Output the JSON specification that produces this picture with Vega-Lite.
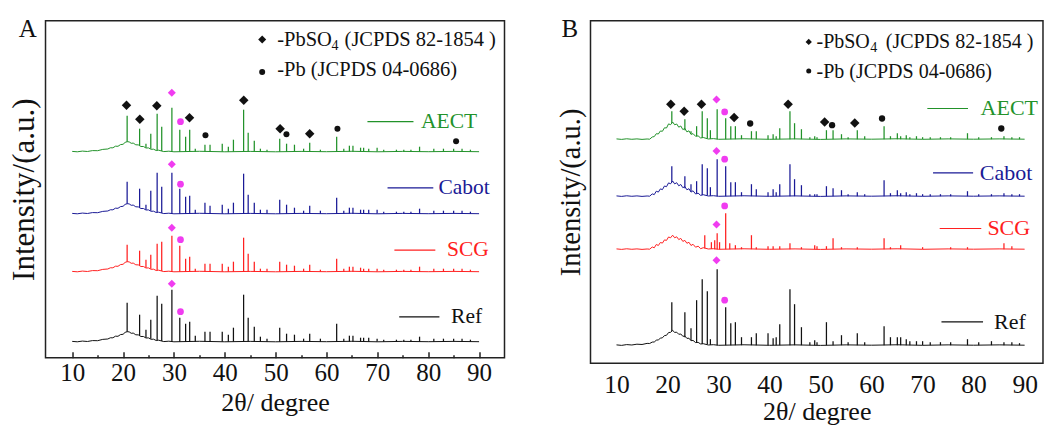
{
"$schema": "https://vega.github.io/schema/vega-lite/v6.json",
"background": "white",
"padding": {"left": 7.5, "top": 15.7, "right": 0, "bottom": 0},
"spacing": 50,
"config": {"font": "Liberation Serif", "view": {"stroke": "#222", "strokeWidth": 1.5}, "axis": {"grid": false}},
"datasets": {
"bg": [
{"p":"A","s":"AECT","x":10,"y":206.3},{"p":"A","s":"AECT","x":11,"y":205.9},{"p":"A","s":"AECT","x":12,"y":206.6},{"p":"A","s":"AECT","x":13,"y":206.2},{"p":"A","s":"AECT","x":14,"y":207.1},{"p":"A","s":"AECT","x":15,"y":207},{"p":"A","s":"AECT","x":16,"y":208.3},{"p":"A","s":"AECT","x":17,"y":208.7},{"p":"A","s":"AECT","x":17.5,"y":209.9},{"p":"A","s":"AECT","x":18,"y":209.9},{"p":"A","s":"AECT","x":18.5,"y":211.5},{"p":"A","s":"AECT","x":19,"y":211.4},{"p":"A","s":"AECT","x":19.5,"y":213.1},{"p":"A","s":"AECT","x":20,"y":213.4},{"p":"A","s":"AECT","x":20.4,"y":215.3},{"p":"A","s":"AECT","x":20.8,"y":216},{"p":"A","s":"AECT","x":21.2,"y":215.8},{"p":"A","s":"AECT","x":21.6,"y":214.4},{"p":"A","s":"AECT","x":22,"y":214.6},{"p":"A","s":"AECT","x":22.5,"y":212.9},{"p":"A","s":"AECT","x":23,"y":212.8},{"p":"A","s":"AECT","x":23.5,"y":211.2},{"p":"A","s":"AECT","x":24,"y":211.2},{"p":"A","s":"AECT","x":24.5,"y":209.7},{"p":"A","s":"AECT","x":25,"y":209.8},{"p":"A","s":"AECT","x":25.5,"y":208.4},{"p":"A","s":"AECT","x":26,"y":208.5},{"p":"A","s":"AECT","x":26.5,"y":207.2},{"p":"A","s":"AECT","x":27,"y":207.5},{"p":"A","s":"AECT","x":28,"y":206.1},{"p":"A","s":"AECT","x":29,"y":206.5},{"p":"A","s":"AECT","x":30,"y":205.9},{"p":"A","s":"AECT","x":35,"y":206.4},{"p":"A","s":"AECT","x":40,"y":205.9},{"p":"A","s":"AECT","x":45,"y":206.3},{"p":"A","s":"AECT","x":50,"y":205.9},{"p":"A","s":"AECT","x":55,"y":206.3},{"p":"A","s":"AECT","x":60,"y":206},{"p":"A","s":"AECT","x":65,"y":206.4},{"p":"A","s":"AECT","x":70,"y":205.9},{"p":"A","s":"AECT","x":75,"y":206.3},{"p":"A","s":"AECT","x":80,"y":206},{"p":"A","s":"AECT","x":85,"y":206.3},{"p":"A","s":"AECT","x":90,"y":206},
{"p":"A","s":"Cabot","x":10,"y":144.3},{"p":"A","s":"Cabot","x":11,"y":143.9},{"p":"A","s":"Cabot","x":12,"y":144.6},{"p":"A","s":"Cabot","x":13,"y":144.2},{"p":"A","s":"Cabot","x":14,"y":145.1},{"p":"A","s":"Cabot","x":15,"y":145},{"p":"A","s":"Cabot","x":16,"y":146.3},{"p":"A","s":"Cabot","x":17,"y":146.7},{"p":"A","s":"Cabot","x":17.5,"y":147.9},{"p":"A","s":"Cabot","x":18,"y":147.9},{"p":"A","s":"Cabot","x":18.5,"y":149.5},{"p":"A","s":"Cabot","x":19,"y":149.4},{"p":"A","s":"Cabot","x":19.5,"y":151.1},{"p":"A","s":"Cabot","x":20,"y":151.4},{"p":"A","s":"Cabot","x":20.4,"y":153.3},{"p":"A","s":"Cabot","x":20.8,"y":154},{"p":"A","s":"Cabot","x":21.2,"y":153.8},{"p":"A","s":"Cabot","x":21.6,"y":152.4},{"p":"A","s":"Cabot","x":22,"y":152.6},{"p":"A","s":"Cabot","x":22.5,"y":150.9},{"p":"A","s":"Cabot","x":23,"y":150.8},{"p":"A","s":"Cabot","x":23.5,"y":149.2},{"p":"A","s":"Cabot","x":24,"y":149.2},{"p":"A","s":"Cabot","x":24.5,"y":147.7},{"p":"A","s":"Cabot","x":25,"y":147.8},{"p":"A","s":"Cabot","x":25.5,"y":146.4},{"p":"A","s":"Cabot","x":26,"y":146.5},{"p":"A","s":"Cabot","x":26.5,"y":145.2},{"p":"A","s":"Cabot","x":27,"y":145.5},{"p":"A","s":"Cabot","x":28,"y":144.1},{"p":"A","s":"Cabot","x":29,"y":144.5},{"p":"A","s":"Cabot","x":30,"y":143.9},{"p":"A","s":"Cabot","x":35,"y":144.4},{"p":"A","s":"Cabot","x":40,"y":143.9},{"p":"A","s":"Cabot","x":45,"y":144.3},{"p":"A","s":"Cabot","x":50,"y":143.9},{"p":"A","s":"Cabot","x":55,"y":144.3},{"p":"A","s":"Cabot","x":60,"y":144},{"p":"A","s":"Cabot","x":65,"y":144.4},{"p":"A","s":"Cabot","x":70,"y":143.9},{"p":"A","s":"Cabot","x":75,"y":144.3},{"p":"A","s":"Cabot","x":80,"y":144},{"p":"A","s":"Cabot","x":85,"y":144.3},{"p":"A","s":"Cabot","x":90,"y":144},
{"p":"A","s":"SCG","x":10,"y":86.3},{"p":"A","s":"SCG","x":11,"y":85.9},{"p":"A","s":"SCG","x":12,"y":86.6},{"p":"A","s":"SCG","x":13,"y":86.2},{"p":"A","s":"SCG","x":14,"y":87.1},{"p":"A","s":"SCG","x":15,"y":87},{"p":"A","s":"SCG","x":16,"y":88.3},{"p":"A","s":"SCG","x":17,"y":88.7},{"p":"A","s":"SCG","x":17.5,"y":89.9},{"p":"A","s":"SCG","x":18,"y":89.9},{"p":"A","s":"SCG","x":18.5,"y":91.5},{"p":"A","s":"SCG","x":19,"y":91.4},{"p":"A","s":"SCG","x":19.5,"y":93.1},{"p":"A","s":"SCG","x":20,"y":93.4},{"p":"A","s":"SCG","x":20.4,"y":95.3},{"p":"A","s":"SCG","x":20.8,"y":96},{"p":"A","s":"SCG","x":21.2,"y":95.8},{"p":"A","s":"SCG","x":21.6,"y":94.4},{"p":"A","s":"SCG","x":22,"y":94.6},{"p":"A","s":"SCG","x":22.5,"y":92.9},{"p":"A","s":"SCG","x":23,"y":92.8},{"p":"A","s":"SCG","x":23.5,"y":91.2},{"p":"A","s":"SCG","x":24,"y":91.2},{"p":"A","s":"SCG","x":24.5,"y":89.7},{"p":"A","s":"SCG","x":25,"y":89.8},{"p":"A","s":"SCG","x":25.5,"y":88.4},{"p":"A","s":"SCG","x":26,"y":88.5},{"p":"A","s":"SCG","x":26.5,"y":87.2},{"p":"A","s":"SCG","x":27,"y":87.5},{"p":"A","s":"SCG","x":28,"y":86.1},{"p":"A","s":"SCG","x":29,"y":86.5},{"p":"A","s":"SCG","x":30,"y":85.9},{"p":"A","s":"SCG","x":35,"y":86.4},{"p":"A","s":"SCG","x":40,"y":85.9},{"p":"A","s":"SCG","x":45,"y":86.3},{"p":"A","s":"SCG","x":50,"y":85.9},{"p":"A","s":"SCG","x":55,"y":86.3},{"p":"A","s":"SCG","x":60,"y":86},{"p":"A","s":"SCG","x":65,"y":86.4},{"p":"A","s":"SCG","x":70,"y":85.9},{"p":"A","s":"SCG","x":75,"y":86.3},{"p":"A","s":"SCG","x":80,"y":86},{"p":"A","s":"SCG","x":85,"y":86.3},{"p":"A","s":"SCG","x":90,"y":86},
{"p":"A","s":"Ref","x":10,"y":16.3},{"p":"A","s":"Ref","x":11,"y":15.9},{"p":"A","s":"Ref","x":12,"y":16.6},{"p":"A","s":"Ref","x":13,"y":16.2},{"p":"A","s":"Ref","x":14,"y":17.1},{"p":"A","s":"Ref","x":15,"y":17},{"p":"A","s":"Ref","x":16,"y":18.3},{"p":"A","s":"Ref","x":17,"y":18.7},{"p":"A","s":"Ref","x":17.5,"y":19.9},{"p":"A","s":"Ref","x":18,"y":19.9},{"p":"A","s":"Ref","x":18.5,"y":21.5},{"p":"A","s":"Ref","x":19,"y":21.4},{"p":"A","s":"Ref","x":19.5,"y":23.1},{"p":"A","s":"Ref","x":20,"y":23.4},{"p":"A","s":"Ref","x":20.4,"y":25.3},{"p":"A","s":"Ref","x":20.8,"y":26},{"p":"A","s":"Ref","x":21.2,"y":25.8},{"p":"A","s":"Ref","x":21.6,"y":24.4},{"p":"A","s":"Ref","x":22,"y":24.6},{"p":"A","s":"Ref","x":22.5,"y":22.9},{"p":"A","s":"Ref","x":23,"y":22.8},{"p":"A","s":"Ref","x":23.5,"y":21.2},{"p":"A","s":"Ref","x":24,"y":21.2},{"p":"A","s":"Ref","x":24.5,"y":19.7},{"p":"A","s":"Ref","x":25,"y":19.8},{"p":"A","s":"Ref","x":25.5,"y":18.4},{"p":"A","s":"Ref","x":26,"y":18.5},{"p":"A","s":"Ref","x":26.5,"y":17.2},{"p":"A","s":"Ref","x":27,"y":17.5},{"p":"A","s":"Ref","x":28,"y":16.1},{"p":"A","s":"Ref","x":29,"y":16.5},{"p":"A","s":"Ref","x":30,"y":15.9},{"p":"A","s":"Ref","x":35,"y":16.4},{"p":"A","s":"Ref","x":40,"y":15.9},{"p":"A","s":"Ref","x":45,"y":16.3},{"p":"A","s":"Ref","x":50,"y":15.9},{"p":"A","s":"Ref","x":55,"y":16.3},{"p":"A","s":"Ref","x":60,"y":16},{"p":"A","s":"Ref","x":65,"y":16.4},{"p":"A","s":"Ref","x":70,"y":15.9},{"p":"A","s":"Ref","x":75,"y":16.3},{"p":"A","s":"Ref","x":80,"y":16},{"p":"A","s":"Ref","x":85,"y":16.3},{"p":"A","s":"Ref","x":90,"y":16},
{"p":"B","s":"AECT","x":10,"y":224.3},{"p":"B","s":"AECT","x":11,"y":223.8},{"p":"B","s":"AECT","x":12,"y":224.4},{"p":"B","s":"AECT","x":13,"y":223.9},{"p":"B","s":"AECT","x":14,"y":224.3},{"p":"B","s":"AECT","x":15,"y":223.8},{"p":"B","s":"AECT","x":16,"y":224.2},{"p":"B","s":"AECT","x":16.5,"y":224},{"p":"B","s":"AECT","x":17,"y":226.2},{"p":"B","s":"AECT","x":17.4,"y":226.6},{"p":"B","s":"AECT","x":17.8,"y":229.5},{"p":"B","s":"AECT","x":18.2,"y":229.2},{"p":"B","s":"AECT","x":18.6,"y":232.2},{"p":"B","s":"AECT","x":19,"y":231.9},{"p":"B","s":"AECT","x":19.4,"y":235.4},{"p":"B","s":"AECT","x":19.8,"y":235.2},{"p":"B","s":"AECT","x":20.2,"y":239.3},{"p":"B","s":"AECT","x":20.6,"y":238.5},{"p":"B","s":"AECT","x":21,"y":241.2},{"p":"B","s":"AECT","x":21.4,"y":238.4},{"p":"B","s":"AECT","x":21.8,"y":239.2},{"p":"B","s":"AECT","x":22.2,"y":236},{"p":"B","s":"AECT","x":22.6,"y":237.2},{"p":"B","s":"AECT","x":23,"y":233.6},{"p":"B","s":"AECT","x":23.4,"y":234.8},{"p":"B","s":"AECT","x":23.8,"y":231.3},{"p":"B","s":"AECT","x":24.2,"y":232.4},{"p":"B","s":"AECT","x":24.6,"y":228.8},{"p":"B","s":"AECT","x":25,"y":229.6},{"p":"B","s":"AECT","x":25.5,"y":226.9},{"p":"B","s":"AECT","x":26,"y":227.3},{"p":"B","s":"AECT","x":26.5,"y":225.2},{"p":"B","s":"AECT","x":27,"y":225.7},{"p":"B","s":"AECT","x":28,"y":224.2},{"p":"B","s":"AECT","x":29,"y":224.6},{"p":"B","s":"AECT","x":30,"y":223.9},{"p":"B","s":"AECT","x":35,"y":224.4},{"p":"B","s":"AECT","x":40,"y":223.9},{"p":"B","s":"AECT","x":45,"y":224.3},{"p":"B","s":"AECT","x":50,"y":223.8},{"p":"B","s":"AECT","x":55,"y":224.3},{"p":"B","s":"AECT","x":60,"y":224},{"p":"B","s":"AECT","x":65,"y":224.4},{"p":"B","s":"AECT","x":70,"y":223.9},{"p":"B","s":"AECT","x":75,"y":224.3},{"p":"B","s":"AECT","x":80,"y":224},{"p":"B","s":"AECT","x":85,"y":224.3},{"p":"B","s":"AECT","x":90,"y":224},
{"p":"B","s":"Cabot","x":10,"y":167.3},{"p":"B","s":"Cabot","x":11,"y":166.8},{"p":"B","s":"Cabot","x":12,"y":167.4},{"p":"B","s":"Cabot","x":13,"y":166.9},{"p":"B","s":"Cabot","x":14,"y":167.3},{"p":"B","s":"Cabot","x":15,"y":166.8},{"p":"B","s":"Cabot","x":16,"y":167.2},{"p":"B","s":"Cabot","x":16.5,"y":167},{"p":"B","s":"Cabot","x":17,"y":169.3},{"p":"B","s":"Cabot","x":17.4,"y":168.6},{"p":"B","s":"Cabot","x":17.8,"y":172},{"p":"B","s":"Cabot","x":18.2,"y":171.1},{"p":"B","s":"Cabot","x":18.6,"y":174.3},{"p":"B","s":"Cabot","x":19,"y":173.6},{"p":"B","s":"Cabot","x":19.4,"y":177.2},{"p":"B","s":"Cabot","x":19.8,"y":176.5},{"p":"B","s":"Cabot","x":20.2,"y":180.3},{"p":"B","s":"Cabot","x":20.6,"y":179.4},{"p":"B","s":"Cabot","x":21,"y":182.2},{"p":"B","s":"Cabot","x":21.4,"y":179.3},{"p":"B","s":"Cabot","x":21.8,"y":180.5},{"p":"B","s":"Cabot","x":22.2,"y":177.4},{"p":"B","s":"Cabot","x":22.6,"y":178.7},{"p":"B","s":"Cabot","x":23,"y":175.5},{"p":"B","s":"Cabot","x":23.4,"y":176.6},{"p":"B","s":"Cabot","x":23.8,"y":173.4},{"p":"B","s":"Cabot","x":24.2,"y":174.5},{"p":"B","s":"Cabot","x":24.6,"y":171.1},{"p":"B","s":"Cabot","x":25,"y":172.4},{"p":"B","s":"Cabot","x":25.5,"y":169.2},{"p":"B","s":"Cabot","x":26,"y":170},{"p":"B","s":"Cabot","x":26.5,"y":167.8},{"p":"B","s":"Cabot","x":27,"y":168.5},{"p":"B","s":"Cabot","x":28,"y":167.2},{"p":"B","s":"Cabot","x":29,"y":167.5},{"p":"B","s":"Cabot","x":30,"y":166.9},{"p":"B","s":"Cabot","x":35,"y":167.4},{"p":"B","s":"Cabot","x":40,"y":166.9},{"p":"B","s":"Cabot","x":45,"y":167.3},{"p":"B","s":"Cabot","x":50,"y":166.8},{"p":"B","s":"Cabot","x":55,"y":167.3},{"p":"B","s":"Cabot","x":60,"y":167},{"p":"B","s":"Cabot","x":65,"y":167.4},{"p":"B","s":"Cabot","x":70,"y":166.9},{"p":"B","s":"Cabot","x":75,"y":167.3},{"p":"B","s":"Cabot","x":80,"y":167},{"p":"B","s":"Cabot","x":85,"y":167.3},{"p":"B","s":"Cabot","x":90,"y":167},
{"p":"B","s":"SCG","x":10,"y":114.3},{"p":"B","s":"SCG","x":11,"y":113.8},{"p":"B","s":"SCG","x":12,"y":114.4},{"p":"B","s":"SCG","x":13,"y":113.9},{"p":"B","s":"SCG","x":14,"y":114.3},{"p":"B","s":"SCG","x":15,"y":113.8},{"p":"B","s":"SCG","x":16,"y":114.2},{"p":"B","s":"SCG","x":16.5,"y":114},{"p":"B","s":"SCG","x":17,"y":116.2},{"p":"B","s":"SCG","x":17.4,"y":115.4},{"p":"B","s":"SCG","x":17.8,"y":118.7},{"p":"B","s":"SCG","x":18.2,"y":117.7},{"p":"B","s":"SCG","x":18.6,"y":120.7},{"p":"B","s":"SCG","x":19,"y":120.1},{"p":"B","s":"SCG","x":19.4,"y":123.3},{"p":"B","s":"SCG","x":19.8,"y":122.8},{"p":"B","s":"SCG","x":20.2,"y":126.2},{"p":"B","s":"SCG","x":20.6,"y":125.4},{"p":"B","s":"SCG","x":21,"y":128},{"p":"B","s":"SCG","x":21.4,"y":125.4},{"p":"B","s":"SCG","x":21.8,"y":126.4},{"p":"B","s":"SCG","x":22.2,"y":123.6},{"p":"B","s":"SCG","x":22.6,"y":124.8},{"p":"B","s":"SCG","x":23,"y":121.8},{"p":"B","s":"SCG","x":23.4,"y":122.8},{"p":"B","s":"SCG","x":23.8,"y":119.9},{"p":"B","s":"SCG","x":24.2,"y":120.9},{"p":"B","s":"SCG","x":24.6,"y":117.7},{"p":"B","s":"SCG","x":25,"y":118.9},{"p":"B","s":"SCG","x":25.5,"y":116},{"p":"B","s":"SCG","x":26,"y":117},{"p":"B","s":"SCG","x":26.5,"y":114.5},{"p":"B","s":"SCG","x":27,"y":115.5},{"p":"B","s":"SCG","x":28,"y":114.2},{"p":"B","s":"SCG","x":29,"y":114.5},{"p":"B","s":"SCG","x":30,"y":113.9},{"p":"B","s":"SCG","x":35,"y":114.4},{"p":"B","s":"SCG","x":40,"y":113.9},{"p":"B","s":"SCG","x":45,"y":114.3},{"p":"B","s":"SCG","x":50,"y":113.8},{"p":"B","s":"SCG","x":55,"y":114.3},{"p":"B","s":"SCG","x":60,"y":114},{"p":"B","s":"SCG","x":65,"y":114.4},{"p":"B","s":"SCG","x":70,"y":113.9},{"p":"B","s":"SCG","x":75,"y":114.3},{"p":"B","s":"SCG","x":80,"y":114},{"p":"B","s":"SCG","x":85,"y":114.3},{"p":"B","s":"SCG","x":90,"y":114},
{"p":"B","s":"Ref","x":10,"y":18.3},{"p":"B","s":"Ref","x":11,"y":17.8},{"p":"B","s":"Ref","x":12,"y":18.6},{"p":"B","s":"Ref","x":13,"y":18.2},{"p":"B","s":"Ref","x":14,"y":19},{"p":"B","s":"Ref","x":15,"y":18.7},{"p":"B","s":"Ref","x":16,"y":19.8},{"p":"B","s":"Ref","x":16.5,"y":19.7},{"p":"B","s":"Ref","x":17,"y":21.1},{"p":"B","s":"Ref","x":17.4,"y":21.2},{"p":"B","s":"Ref","x":17.8,"y":23},{"p":"B","s":"Ref","x":18.2,"y":23.3},{"p":"B","s":"Ref","x":18.6,"y":25},{"p":"B","s":"Ref","x":19,"y":25.4},{"p":"B","s":"Ref","x":19.4,"y":27.6},{"p":"B","s":"Ref","x":19.8,"y":27.9},{"p":"B","s":"Ref","x":20.2,"y":30.6},{"p":"B","s":"Ref","x":20.6,"y":30.9},{"p":"B","s":"Ref","x":21,"y":32.8},{"p":"B","s":"Ref","x":21.4,"y":30.8},{"p":"B","s":"Ref","x":21.8,"y":31},{"p":"B","s":"Ref","x":22.2,"y":28.9},{"p":"B","s":"Ref","x":22.6,"y":29.2},{"p":"B","s":"Ref","x":23,"y":26.9},{"p":"B","s":"Ref","x":23.4,"y":27.1},{"p":"B","s":"Ref","x":23.8,"y":24.8},{"p":"B","s":"Ref","x":24.2,"y":25},{"p":"B","s":"Ref","x":24.6,"y":22.5},{"p":"B","s":"Ref","x":25,"y":22.8},{"p":"B","s":"Ref","x":25.5,"y":20.6},{"p":"B","s":"Ref","x":26,"y":20.8},{"p":"B","s":"Ref","x":26.5,"y":19.2},{"p":"B","s":"Ref","x":27,"y":19.5},{"p":"B","s":"Ref","x":28,"y":18.2},{"p":"B","s":"Ref","x":29,"y":18.5},{"p":"B","s":"Ref","x":30,"y":17.9},{"p":"B","s":"Ref","x":35,"y":18.4},{"p":"B","s":"Ref","x":40,"y":17.9},{"p":"B","s":"Ref","x":45,"y":18.3},{"p":"B","s":"Ref","x":50,"y":17.8},{"p":"B","s":"Ref","x":55,"y":18.3},{"p":"B","s":"Ref","x":60,"y":18},{"p":"B","s":"Ref","x":65,"y":18.4},{"p":"B","s":"Ref","x":70,"y":17.9},{"p":"B","s":"Ref","x":75,"y":18.3},{"p":"B","s":"Ref","x":80,"y":18},{"p":"B","s":"Ref","x":85,"y":18.3},{"p":"B","s":"Ref","x":90,"y":18}
],
"pk": [
{"p":"A","s":"AECT","x":20.8,"y":216,"t":242},{"p":"A","s":"AECT","x":23.25,"y":212,"t":229},{"p":"A","s":"AECT","x":24.5,"y":210,"t":214},{"p":"A","s":"AECT","x":25.45,"y":209,"t":224},{"p":"A","s":"AECT","x":26.7,"y":207.5,"t":244},{"p":"A","s":"AECT","x":27.6,"y":206.6,"t":231},{"p":"A","s":"AECT","x":29.6,"y":206,"t":250},{"p":"A","s":"AECT","x":31.15,"y":206,"t":228},{"p":"A","s":"AECT","x":32.3,"y":206,"t":221},{"p":"A","s":"AECT","x":33.1,"y":206,"t":228},{"p":"A","s":"AECT","x":34.2,"y":206,"t":209},{"p":"A","s":"AECT","x":36.1,"y":206,"t":213},{"p":"A","s":"AECT","x":37.1,"y":206,"t":213},{"p":"A","s":"AECT","x":39.5,"y":206,"t":214},{"p":"A","s":"AECT","x":40.7,"y":206,"t":211},{"p":"A","s":"AECT","x":41.7,"y":206,"t":218},{"p":"A","s":"AECT","x":43.7,"y":206,"t":248},{"p":"A","s":"AECT","x":44.6,"y":206,"t":225},{"p":"A","s":"AECT","x":45.8,"y":206,"t":217},{"p":"A","s":"AECT","x":47,"y":206,"t":209},{"p":"A","s":"AECT","x":48.3,"y":206,"t":208},{"p":"A","s":"AECT","x":50.8,"y":206,"t":219},{"p":"A","s":"AECT","x":52.15,"y":206,"t":214},{"p":"A","s":"AECT","x":53.7,"y":206,"t":213},{"p":"A","s":"AECT","x":55.5,"y":206,"t":209},{"p":"A","s":"AECT","x":56.7,"y":206,"t":215},{"p":"A","s":"AECT","x":58.8,"y":206,"t":208},{"p":"A","s":"AECT","x":62,"y":206,"t":221},{"p":"A","s":"AECT","x":63.4,"y":206,"t":209},{"p":"A","s":"AECT","x":64.5,"y":206,"t":212},{"p":"A","s":"AECT","x":65.2,"y":206,"t":212},{"p":"A","s":"AECT","x":66.7,"y":206,"t":210},{"p":"A","s":"AECT","x":67.3,"y":206,"t":210},{"p":"A","s":"AECT","x":68.3,"y":206,"t":209},{"p":"A","s":"AECT","x":69.95,"y":206,"t":210},{"p":"A","s":"AECT","x":71.25,"y":206,"t":208},{"p":"A","s":"AECT","x":73.75,"y":206,"t":208},{"p":"A","s":"AECT","x":75.2,"y":206,"t":208},{"p":"A","s":"AECT","x":76.6,"y":206,"t":208},{"p":"A","s":"AECT","x":78.3,"y":206,"t":211},{"p":"A","s":"AECT","x":81.1,"y":206,"t":209},{"p":"A","s":"AECT","x":83,"y":206,"t":209},{"p":"A","s":"AECT","x":85,"y":206,"t":209},{"p":"A","s":"AECT","x":86.65,"y":206,"t":209},{"p":"A","s":"AECT","x":88.3,"y":206,"t":208},
{"p":"A","s":"Cabot","x":20.8,"y":154,"t":176},{"p":"A","s":"Cabot","x":23.25,"y":150,"t":169},{"p":"A","s":"Cabot","x":24.5,"y":148,"t":153},{"p":"A","s":"Cabot","x":25.45,"y":147,"t":167},{"p":"A","s":"Cabot","x":26.7,"y":145.5,"t":185},{"p":"A","s":"Cabot","x":27.6,"y":144.6,"t":171},{"p":"A","s":"Cabot","x":29.6,"y":144,"t":185},{"p":"A","s":"Cabot","x":31.15,"y":144,"t":169},{"p":"A","s":"Cabot","x":32.3,"y":144,"t":161},{"p":"A","s":"Cabot","x":33.1,"y":144,"t":162},{"p":"A","s":"Cabot","x":34.2,"y":144,"t":148},{"p":"A","s":"Cabot","x":36.1,"y":144,"t":155},{"p":"A","s":"Cabot","x":37.1,"y":144,"t":152},{"p":"A","s":"Cabot","x":39.5,"y":144,"t":153},{"p":"A","s":"Cabot","x":40.7,"y":144,"t":149},{"p":"A","s":"Cabot","x":41.7,"y":144,"t":155},{"p":"A","s":"Cabot","x":43.7,"y":144,"t":184},{"p":"A","s":"Cabot","x":44.6,"y":144,"t":163},{"p":"A","s":"Cabot","x":45.8,"y":144,"t":155},{"p":"A","s":"Cabot","x":47,"y":144,"t":148},{"p":"A","s":"Cabot","x":48.3,"y":144,"t":148},{"p":"A","s":"Cabot","x":50.8,"y":144,"t":158},{"p":"A","s":"Cabot","x":52.15,"y":144,"t":153},{"p":"A","s":"Cabot","x":53.7,"y":144,"t":150},{"p":"A","s":"Cabot","x":55.5,"y":144,"t":147},{"p":"A","s":"Cabot","x":56.7,"y":144,"t":152},{"p":"A","s":"Cabot","x":58.8,"y":144,"t":147},{"p":"A","s":"Cabot","x":62,"y":144,"t":160},{"p":"A","s":"Cabot","x":63.4,"y":144,"t":147},{"p":"A","s":"Cabot","x":64.5,"y":144,"t":150},{"p":"A","s":"Cabot","x":65.2,"y":144,"t":150},{"p":"A","s":"Cabot","x":66.7,"y":144,"t":148},{"p":"A","s":"Cabot","x":67.3,"y":144,"t":148},{"p":"A","s":"Cabot","x":68.3,"y":144,"t":148},{"p":"A","s":"Cabot","x":69.95,"y":144,"t":148},{"p":"A","s":"Cabot","x":71.25,"y":144,"t":146},{"p":"A","s":"Cabot","x":73.75,"y":144,"t":146},{"p":"A","s":"Cabot","x":75.2,"y":144,"t":146},{"p":"A","s":"Cabot","x":76.6,"y":144,"t":146},{"p":"A","s":"Cabot","x":78.3,"y":144,"t":149},{"p":"A","s":"Cabot","x":81.1,"y":144,"t":147},{"p":"A","s":"Cabot","x":83,"y":144,"t":147},{"p":"A","s":"Cabot","x":85,"y":144,"t":147},{"p":"A","s":"Cabot","x":86.65,"y":144,"t":147},{"p":"A","s":"Cabot","x":88.3,"y":144,"t":146},
{"p":"A","s":"SCG","x":20.8,"y":96,"t":113},{"p":"A","s":"SCG","x":23.25,"y":92,"t":107},{"p":"A","s":"SCG","x":24.5,"y":90,"t":98},{"p":"A","s":"SCG","x":25.45,"y":89,"t":103},{"p":"A","s":"SCG","x":26.7,"y":87.5,"t":114},{"p":"A","s":"SCG","x":27.6,"y":86.6,"t":116},{"p":"A","s":"SCG","x":29.6,"y":86,"t":122},{"p":"A","s":"SCG","x":31.15,"y":86,"t":112},{"p":"A","s":"SCG","x":32.3,"y":86,"t":99},{"p":"A","s":"SCG","x":33.1,"y":86,"t":101},{"p":"A","s":"SCG","x":34.2,"y":86,"t":89},{"p":"A","s":"SCG","x":36.1,"y":86,"t":94},{"p":"A","s":"SCG","x":37.1,"y":86,"t":94},{"p":"A","s":"SCG","x":39.5,"y":86,"t":94},{"p":"A","s":"SCG","x":40.7,"y":86,"t":91},{"p":"A","s":"SCG","x":41.7,"y":86,"t":96},{"p":"A","s":"SCG","x":43.7,"y":86,"t":120},{"p":"A","s":"SCG","x":44.6,"y":86,"t":104},{"p":"A","s":"SCG","x":45.8,"y":86,"t":96},{"p":"A","s":"SCG","x":47,"y":86,"t":89},{"p":"A","s":"SCG","x":48.3,"y":86,"t":89},{"p":"A","s":"SCG","x":50.8,"y":86,"t":96},{"p":"A","s":"SCG","x":52.15,"y":86,"t":93},{"p":"A","s":"SCG","x":53.7,"y":86,"t":92},{"p":"A","s":"SCG","x":55.5,"y":86,"t":89},{"p":"A","s":"SCG","x":56.7,"y":86,"t":93},{"p":"A","s":"SCG","x":58.8,"y":86,"t":88},{"p":"A","s":"SCG","x":62,"y":86,"t":99},{"p":"A","s":"SCG","x":63.4,"y":86,"t":89},{"p":"A","s":"SCG","x":64.5,"y":86,"t":91},{"p":"A","s":"SCG","x":65.2,"y":86,"t":91},{"p":"A","s":"SCG","x":66.7,"y":86,"t":90},{"p":"A","s":"SCG","x":67.3,"y":86,"t":89},{"p":"A","s":"SCG","x":68.3,"y":86,"t":89},{"p":"A","s":"SCG","x":69.95,"y":86,"t":89},{"p":"A","s":"SCG","x":71.25,"y":86,"t":88},{"p":"A","s":"SCG","x":73.75,"y":86,"t":88},{"p":"A","s":"SCG","x":75.2,"y":86,"t":88},{"p":"A","s":"SCG","x":76.6,"y":86,"t":88},{"p":"A","s":"SCG","x":78.3,"y":86,"t":91},{"p":"A","s":"SCG","x":81.1,"y":86,"t":89},{"p":"A","s":"SCG","x":83,"y":86,"t":89},{"p":"A","s":"SCG","x":85,"y":86,"t":89},{"p":"A","s":"SCG","x":86.65,"y":86,"t":89},{"p":"A","s":"SCG","x":88.3,"y":86,"t":88},
{"p":"A","s":"Ref","x":20.8,"y":26,"t":55},{"p":"A","s":"Ref","x":23.25,"y":22,"t":43},{"p":"A","s":"Ref","x":24.5,"y":20,"t":28},{"p":"A","s":"Ref","x":25.45,"y":19,"t":38},{"p":"A","s":"Ref","x":26.7,"y":17.5,"t":62},{"p":"A","s":"Ref","x":27.6,"y":16.6,"t":54},{"p":"A","s":"Ref","x":29.6,"y":16,"t":68},{"p":"A","s":"Ref","x":31.15,"y":16,"t":40},{"p":"A","s":"Ref","x":32.3,"y":16,"t":34},{"p":"A","s":"Ref","x":33.1,"y":16,"t":36},{"p":"A","s":"Ref","x":34.2,"y":16,"t":22},{"p":"A","s":"Ref","x":36.1,"y":16,"t":26},{"p":"A","s":"Ref","x":37.1,"y":16,"t":26},{"p":"A","s":"Ref","x":39.5,"y":16,"t":26},{"p":"A","s":"Ref","x":40.7,"y":16,"t":23},{"p":"A","s":"Ref","x":41.7,"y":16,"t":30},{"p":"A","s":"Ref","x":43.7,"y":16,"t":63},{"p":"A","s":"Ref","x":44.6,"y":16,"t":40},{"p":"A","s":"Ref","x":45.8,"y":16,"t":31},{"p":"A","s":"Ref","x":47,"y":16,"t":21},{"p":"A","s":"Ref","x":48.3,"y":16,"t":19},{"p":"A","s":"Ref","x":50.8,"y":16,"t":30},{"p":"A","s":"Ref","x":52.15,"y":16,"t":24},{"p":"A","s":"Ref","x":53.7,"y":16,"t":23},{"p":"A","s":"Ref","x":55.5,"y":16,"t":19},{"p":"A","s":"Ref","x":56.7,"y":16,"t":24},{"p":"A","s":"Ref","x":58.8,"y":16,"t":19},{"p":"A","s":"Ref","x":62,"y":16,"t":34},{"p":"A","s":"Ref","x":63.4,"y":16,"t":19},{"p":"A","s":"Ref","x":64.5,"y":16,"t":22},{"p":"A","s":"Ref","x":65.2,"y":16,"t":22},{"p":"A","s":"Ref","x":66.7,"y":16,"t":20},{"p":"A","s":"Ref","x":67.3,"y":16,"t":20},{"p":"A","s":"Ref","x":68.3,"y":16,"t":20},{"p":"A","s":"Ref","x":69.95,"y":16,"t":19},{"p":"A","s":"Ref","x":71.25,"y":16,"t":18},{"p":"A","s":"Ref","x":73.75,"y":16,"t":18},{"p":"A","s":"Ref","x":75.2,"y":16,"t":18},{"p":"A","s":"Ref","x":76.6,"y":16,"t":18},{"p":"A","s":"Ref","x":78.3,"y":16,"t":21},{"p":"A","s":"Ref","x":81.1,"y":16,"t":19},{"p":"A","s":"Ref","x":83,"y":16,"t":19},{"p":"A","s":"Ref","x":85,"y":16,"t":19},{"p":"A","s":"Ref","x":86.65,"y":16,"t":19},{"p":"A","s":"Ref","x":88.3,"y":16,"t":18},
{"p":"B","s":"AECT","x":20.84,"y":240,"t":252},{"p":"B","s":"AECT","x":23.4,"y":233,"t":244},{"p":"B","s":"AECT","x":24.6,"y":229.5,"t":232},{"p":"B","s":"AECT","x":25.7,"y":227,"t":237},{"p":"B","s":"AECT","x":26.8,"y":225.5,"t":252},{"p":"B","s":"AECT","x":27.8,"y":224.6,"t":245},{"p":"B","s":"AECT","x":28.4,"y":224.3,"t":233},{"p":"B","s":"AECT","x":29.73,"y":224,"t":254},{"p":"B","s":"AECT","x":31.4,"y":224,"t":245},{"p":"B","s":"AECT","x":32.4,"y":224,"t":237},{"p":"B","s":"AECT","x":33.3,"y":224,"t":237},{"p":"B","s":"AECT","x":34.5,"y":224,"t":228},{"p":"B","s":"AECT","x":36.45,"y":224,"t":232},{"p":"B","s":"AECT","x":37.4,"y":224,"t":232},{"p":"B","s":"AECT","x":39.7,"y":224,"t":228},{"p":"B","s":"AECT","x":40.7,"y":224,"t":229},{"p":"B","s":"AECT","x":41.3,"y":224,"t":227},{"p":"B","s":"AECT","x":42,"y":224,"t":235},{"p":"B","s":"AECT","x":44,"y":224,"t":252},{"p":"B","s":"AECT","x":44.9,"y":224,"t":240},{"p":"B","s":"AECT","x":46.25,"y":224,"t":234},{"p":"B","s":"AECT","x":47.9,"y":224,"t":226},{"p":"B","s":"AECT","x":48.85,"y":224,"t":227},{"p":"B","s":"AECT","x":49.3,"y":224,"t":226},{"p":"B","s":"AECT","x":51.15,"y":224,"t":233},{"p":"B","s":"AECT","x":52.45,"y":224,"t":233},{"p":"B","s":"AECT","x":54.1,"y":224,"t":229},{"p":"B","s":"AECT","x":55.4,"y":224,"t":226},{"p":"B","s":"AECT","x":57.2,"y":224,"t":233},{"p":"B","s":"AECT","x":58.65,"y":224,"t":227},{"p":"B","s":"AECT","x":62.45,"y":224,"t":237},{"p":"B","s":"AECT","x":63.7,"y":224,"t":227},{"p":"B","s":"AECT","x":65.05,"y":224,"t":230},{"p":"B","s":"AECT","x":65.7,"y":224,"t":227},{"p":"B","s":"AECT","x":66.8,"y":224,"t":228},{"p":"B","s":"AECT","x":67.5,"y":224,"t":226},{"p":"B","s":"AECT","x":68.8,"y":224,"t":227},{"p":"B","s":"AECT","x":70,"y":224,"t":226},{"p":"B","s":"AECT","x":71.5,"y":224,"t":226},{"p":"B","s":"AECT","x":73.5,"y":224,"t":226},{"p":"B","s":"AECT","x":75.5,"y":224,"t":226},{"p":"B","s":"AECT","x":78.8,"y":224,"t":230},{"p":"B","s":"AECT","x":81,"y":224,"t":226},{"p":"B","s":"AECT","x":83.5,"y":224,"t":226},{"p":"B","s":"AECT","x":85.95,"y":224,"t":227},{"p":"B","s":"AECT","x":87.5,"y":224,"t":226},{"p":"B","s":"AECT","x":89,"y":224,"t":226},
{"p":"B","s":"Cabot","x":20.84,"y":181,"t":197},{"p":"B","s":"Cabot","x":23.4,"y":175,"t":187},{"p":"B","s":"Cabot","x":24.6,"y":172,"t":179},{"p":"B","s":"Cabot","x":25.7,"y":169.7,"t":182},{"p":"B","s":"Cabot","x":26.8,"y":168.3,"t":199},{"p":"B","s":"Cabot","x":27.8,"y":167.6,"t":195},{"p":"B","s":"Cabot","x":28.4,"y":167.3,"t":176},{"p":"B","s":"Cabot","x":29.73,"y":167,"t":204},{"p":"B","s":"Cabot","x":31.4,"y":167,"t":197},{"p":"B","s":"Cabot","x":32.4,"y":167,"t":181},{"p":"B","s":"Cabot","x":33.3,"y":167,"t":181},{"p":"B","s":"Cabot","x":34.5,"y":167,"t":171},{"p":"B","s":"Cabot","x":36.45,"y":167,"t":179},{"p":"B","s":"Cabot","x":37.4,"y":167,"t":174},{"p":"B","s":"Cabot","x":39.7,"y":167,"t":171},{"p":"B","s":"Cabot","x":40.7,"y":167,"t":174},{"p":"B","s":"Cabot","x":41.3,"y":167,"t":171},{"p":"B","s":"Cabot","x":42,"y":167,"t":179},{"p":"B","s":"Cabot","x":44,"y":167,"t":199},{"p":"B","s":"Cabot","x":44.9,"y":167,"t":184},{"p":"B","s":"Cabot","x":46.25,"y":167,"t":178},{"p":"B","s":"Cabot","x":47.9,"y":167,"t":169},{"p":"B","s":"Cabot","x":48.85,"y":167,"t":169},{"p":"B","s":"Cabot","x":49.3,"y":167,"t":169},{"p":"B","s":"Cabot","x":51.15,"y":167,"t":177},{"p":"B","s":"Cabot","x":52.45,"y":167,"t":175},{"p":"B","s":"Cabot","x":54.1,"y":167,"t":173},{"p":"B","s":"Cabot","x":55.4,"y":167,"t":169},{"p":"B","s":"Cabot","x":57.2,"y":167,"t":171},{"p":"B","s":"Cabot","x":58.65,"y":167,"t":169},{"p":"B","s":"Cabot","x":62.45,"y":167,"t":183},{"p":"B","s":"Cabot","x":63.7,"y":167,"t":170},{"p":"B","s":"Cabot","x":65.05,"y":167,"t":173},{"p":"B","s":"Cabot","x":65.7,"y":167,"t":170},{"p":"B","s":"Cabot","x":66.8,"y":167,"t":171},{"p":"B","s":"Cabot","x":67.5,"y":167,"t":169},{"p":"B","s":"Cabot","x":68.8,"y":167,"t":170},{"p":"B","s":"Cabot","x":70,"y":167,"t":169},{"p":"B","s":"Cabot","x":71.5,"y":167,"t":169},{"p":"B","s":"Cabot","x":73.5,"y":167,"t":169},{"p":"B","s":"Cabot","x":75.5,"y":167,"t":169},{"p":"B","s":"Cabot","x":78.8,"y":167,"t":172},{"p":"B","s":"Cabot","x":81,"y":167,"t":169},{"p":"B","s":"Cabot","x":83.5,"y":167,"t":169},{"p":"B","s":"Cabot","x":85.95,"y":167,"t":170},{"p":"B","s":"Cabot","x":87.5,"y":167,"t":169},{"p":"B","s":"Cabot","x":89,"y":167,"t":169},
{"p":"B","s":"SCG","x":27.3,"y":115,"t":128},{"p":"B","s":"SCG","x":28.6,"y":114.3,"t":121},{"p":"B","s":"SCG","x":29.25,"y":114,"t":123},{"p":"B","s":"SCG","x":29.73,"y":114,"t":130},{"p":"B","s":"SCG","x":30.2,"y":114,"t":121},{"p":"B","s":"SCG","x":31.4,"y":114,"t":150},{"p":"B","s":"SCG","x":32.2,"y":114,"t":120},{"p":"B","s":"SCG","x":33.3,"y":114,"t":118},{"p":"B","s":"SCG","x":34.5,"y":114,"t":116},{"p":"B","s":"SCG","x":36.45,"y":114,"t":128},{"p":"B","s":"SCG","x":37.4,"y":114,"t":116},{"p":"B","s":"SCG","x":39.7,"y":114,"t":117},{"p":"B","s":"SCG","x":40.7,"y":114,"t":117},{"p":"B","s":"SCG","x":42,"y":114,"t":117},{"p":"B","s":"SCG","x":44,"y":114,"t":120},{"p":"B","s":"SCG","x":46.25,"y":114,"t":116},{"p":"B","s":"SCG","x":48.85,"y":114,"t":118},{"p":"B","s":"SCG","x":49.3,"y":114,"t":117},{"p":"B","s":"SCG","x":51.15,"y":114,"t":117},{"p":"B","s":"SCG","x":52.45,"y":114,"t":125},{"p":"B","s":"SCG","x":54.1,"y":114,"t":116},{"p":"B","s":"SCG","x":57.2,"y":114,"t":116},{"p":"B","s":"SCG","x":62.45,"y":114,"t":125},{"p":"B","s":"SCG","x":63.7,"y":114,"t":116},{"p":"B","s":"SCG","x":65.7,"y":114,"t":118},{"p":"B","s":"SCG","x":70,"y":114,"t":116},{"p":"B","s":"SCG","x":75.5,"y":114,"t":116},{"p":"B","s":"SCG","x":78.8,"y":114,"t":116},{"p":"B","s":"SCG","x":85.95,"y":114,"t":120},{"p":"B","s":"SCG","x":87.5,"y":114,"t":117},
{"p":"B","s":"Ref","x":20.84,"y":32,"t":61},{"p":"B","s":"Ref","x":23.4,"y":26,"t":51},{"p":"B","s":"Ref","x":24.6,"y":23,"t":35},{"p":"B","s":"Ref","x":25.7,"y":20.7,"t":63},{"p":"B","s":"Ref","x":26.8,"y":19.3,"t":84},{"p":"B","s":"Ref","x":27.8,"y":18.6,"t":72},{"p":"B","s":"Ref","x":28.4,"y":18.3,"t":24},{"p":"B","s":"Ref","x":29.73,"y":18,"t":94},{"p":"B","s":"Ref","x":31.4,"y":18,"t":56},{"p":"B","s":"Ref","x":32.4,"y":18,"t":40},{"p":"B","s":"Ref","x":33.3,"y":18,"t":41},{"p":"B","s":"Ref","x":34.5,"y":18,"t":26},{"p":"B","s":"Ref","x":36.45,"y":18,"t":26},{"p":"B","s":"Ref","x":37.4,"y":18,"t":30},{"p":"B","s":"Ref","x":39.7,"y":18,"t":30},{"p":"B","s":"Ref","x":40.7,"y":18,"t":25},{"p":"B","s":"Ref","x":41.3,"y":18,"t":26},{"p":"B","s":"Ref","x":42,"y":18,"t":39},{"p":"B","s":"Ref","x":44,"y":18,"t":74},{"p":"B","s":"Ref","x":44.9,"y":18,"t":59},{"p":"B","s":"Ref","x":46.25,"y":18,"t":36},{"p":"B","s":"Ref","x":47.9,"y":18,"t":21},{"p":"B","s":"Ref","x":48.85,"y":18,"t":23},{"p":"B","s":"Ref","x":49.3,"y":18,"t":21},{"p":"B","s":"Ref","x":51.15,"y":18,"t":41},{"p":"B","s":"Ref","x":52.45,"y":18,"t":22},{"p":"B","s":"Ref","x":54.1,"y":18,"t":28},{"p":"B","s":"Ref","x":55.4,"y":18,"t":21},{"p":"B","s":"Ref","x":57.2,"y":18,"t":30},{"p":"B","s":"Ref","x":58.65,"y":18,"t":21},{"p":"B","s":"Ref","x":62.45,"y":18,"t":37},{"p":"B","s":"Ref","x":63.7,"y":18,"t":26},{"p":"B","s":"Ref","x":65.05,"y":18,"t":26},{"p":"B","s":"Ref","x":65.7,"y":18,"t":26},{"p":"B","s":"Ref","x":66.8,"y":18,"t":24},{"p":"B","s":"Ref","x":67.5,"y":18,"t":22},{"p":"B","s":"Ref","x":68.8,"y":18,"t":22},{"p":"B","s":"Ref","x":70,"y":18,"t":22},{"p":"B","s":"Ref","x":71.5,"y":18,"t":21},{"p":"B","s":"Ref","x":73.5,"y":18,"t":21},{"p":"B","s":"Ref","x":75.5,"y":18,"t":21},{"p":"B","s":"Ref","x":78.8,"y":18,"t":24},{"p":"B","s":"Ref","x":81,"y":18,"t":21},{"p":"B","s":"Ref","x":83.5,"y":18,"t":22},{"p":"B","s":"Ref","x":85.95,"y":18,"t":21},{"p":"B","s":"Ref","x":87.5,"y":18,"t":21},{"p":"B","s":"Ref","x":89,"y":18,"t":20}
],
"mk": [
{"p":"A","k":"D","x":20.67,"y":252.5},{"p":"A","k":"D","x":23.29,"y":238.5},{"p":"A","k":"D","x":26.63,"y":252},{"p":"A","k":"D","x":33.06,"y":240},{"p":"A","k":"D","x":43.73,"y":257.5},{"p":"A","k":"D","x":50.88,"y":229},{"p":"A","k":"D","x":56.7,"y":224},
{"p":"A","k":"C","x":36.2,"y":222.5},{"p":"A","k":"C","x":52.12,"y":223.5},{"p":"A","k":"C","x":62.15,"y":229},{"p":"A","k":"C","x":85.48,"y":216.5},
{"p":"A","k":"MD","x":29.58,"y":265},{"p":"A","k":"MD","x":29.58,"y":193.5},{"p":"A","k":"MD","x":29.58,"y":130},{"p":"A","k":"MD","x":29.58,"y":74},
{"p":"A","k":"MC","x":31.29,"y":236},{"p":"A","k":"MC","x":31.29,"y":173.5},{"p":"A","k":"MC","x":31.29,"y":118},{"p":"A","k":"MC","x":31.29,"y":46},
{"p":"A","k":"LD","x":47.35,"y":318.2},{"p":"A","k":"LC","x":47.35,"y":285.8},
{"p":"B","k":"D","x":20.64,"y":259},{"p":"B","k":"D","x":23.26,"y":252},{"p":"B","k":"D","x":26.65,"y":259},{"p":"B","k":"D","x":33.06,"y":245.7},{"p":"B","k":"D","x":43.64,"y":259},{"p":"B","k":"D","x":50.8,"y":241.3},{"p":"B","k":"D","x":56.7,"y":240.3},
{"p":"B","k":"C","x":36.2,"y":239.7},{"p":"B","k":"C","x":52.26,"y":238},{"p":"B","k":"C","x":62.05,"y":244.7},{"p":"B","k":"C","x":85.43,"y":234.7},
{"p":"B","k":"MD","x":29.6,"y":263.7},{"p":"B","k":"MD","x":29.6,"y":212.3},{"p":"B","k":"MD","x":29.6,"y":138.7},{"p":"B","k":"MD","x":29.6,"y":103},
{"p":"B","k":"MC","x":31.2,"y":251.3},{"p":"B","k":"MC","x":31.2,"y":204},{"p":"B","k":"MC","x":31.2,"y":157.3},{"p":"B","k":"MC","x":31.2,"y":63},
{"p":"B","k":"LD","x":47.68,"y":321.3},{"p":"B","k":"LC","x":47.68,"y":292.3}
],
"lab": [
{"p":"A","s":"AECT","x":68.05,"x2":77.1,"y":236,"tx":78.6},
{"p":"A","s":"Cabot","x":72.0,"x2":81.0,"y":169.8,"tx":82.0},
{"p":"A","s":"SCG","x":73.35,"x2":81.4,"y":107.5,"tx":83.7},
{"p":"A","s":"Ref","x":74.3,"x2":82.2,"y":40.8,"tx":84.5},
{"p":"B","s":"AECT","x":70.93,"x2":78.9,"y":254.7,"tx":81.37},
{"p":"B","s":"Cabot","x":72.05,"x2":79.9,"y":190.3,"tx":81.2},
{"p":"B","s":"SCG","x":73.35,"x2":81.5,"y":134.7,"tx":82.7},
{"p":"B","s":"Ref","x":73.7,"x2":81.85,"y":41.3,"tx":84.0}
],
"txt": [
{"p":"A","k":"P","x":-0.5,"y":320.8,"t":"A"},
{"p":"A","k":"L","x":50.31,"y":318,"t":"-PbSO"},
{"p":"A","k":"S","x":61.0,"y":307.5,"t":"4"},
{"p":"A","k":"L","x":63.55,"y":318,"t":"(JCPDS 82-1854 )"},
{"p":"A","k":"L","x":50.31,"y":287.5,"t":"-Pb (JCPDS 04-0686)"},
{"p":"B","k":"P","x":-0.78,"y":326.3,"t":"B"},
{"p":"B","k":"L","x":49.2,"y":321.3,"t":"-PbSO"},
{"p":"B","k":"S","x":59.75,"y":311,"t":"4"},
{"p":"B","k":"L","x":62.79,"y":321.3,"t":"(JCPDS 82-1854 )"},
{"p":"B","k":"L","x":49.2,"y":291,"t":"-Pb (JCPDS 04-0686)"}
]
},
"hconcat": [
{
"width": 459, "height": 337,
"encoding": {
"x": {"field": "x", "type": "quantitative", "scale": {"domain": [4.75, 95], "nice": false, "zero": false},
"axis": {"title": "2θ/ degree", "values": [10,15,20,25,30,35,40,45,50,55,60,65,70,75,80,85,90],
"labelExpr": "datum.value % 10 === 0 ? datum.label : ''",
"tickSize": {"condition": {"test": "datum.value % 10 === 0", "value": -6}, "value": -3},
"tickColor": "#222", "tickWidth": 1.5, "domain": false, "grid": false,
"labelFont": "Liberation Serif", "labelFontSize": 25, "labelColor": "#111", "labelPadding": 9, "labelFlush": false, "labelOverlap": false,
"titleFont": "Liberation Serif", "titleFontSize": 26, "titleFontWeight": "normal", "titleColor": "#111", "titleBaseline": "alphabetic", "titleY": 53.2}},
"y": {"field": "y", "type": "quantitative", "scale": {"domain": [0, 337], "nice": false, "zero": false},
"axis": {"title": "Intensity/(a.u.)", "labels": false, "ticks": false, "domain": false, "grid": false,
"titleFont": "Liberation Serif", "titleFontSize": 31, "titleFontWeight": "normal", "titleColor": "#111", "titlePadding": 5.2}}
},
"layer": [
{"data": {"name": "bg"}, "transform": [{"filter": "datum.p === 'A'"}], "mark": {"type": "line", "strokeWidth": 1},
"encoding": {"color": {"field": "s", "type": "nominal", "scale": {"domain": ["AECT","Cabot","SCG","Ref"], "range": ["#22922a","#1a1a96","#ff2020","#111111"]}, "legend": null}}},
{"data": {"name": "pk"}, "transform": [{"filter": "datum.p === 'A'"}], "mark": {"type": "rule", "strokeWidth": 1.25},
"encoding": {"y2": {"field": "t"}, "color": {"field": "s", "type": "nominal", "legend": null}}},
{"data": {"name": "lab"}, "transform": [{"filter": "datum.p === 'A'"}], "mark": {"type": "rule", "strokeWidth": 1.2},
"encoding": {"x2": {"field": "x2"}, "color": {"field": "s", "type": "nominal", "legend": null}}},
{"data": {"name": "lab"}, "transform": [{"filter": "datum.p === 'A'"}], "mark": {"type": "text", "align": "left", "baseline": "middle", "fontSize": 21.5, "font": "Liberation Serif"},
"encoding": {"x": {"field": "tx", "type": "quantitative"}, "text": {"field": "s"}, "color": {"field": "s", "type": "nominal", "legend": null}}},
{"data": {"name": "mk"}, "transform": [{"filter": "datum.p === 'A' && datum.k === 'D'"}], "mark": {"type": "point", "shape": "diamond", "filled": true, "size": 90, "color": "#111", "opacity": 1, "strokeWidth": 0}},
{"data": {"name": "mk"}, "transform": [{"filter": "datum.p === 'A' && datum.k === 'C'"}], "mark": {"type": "point", "shape": "circle", "filled": true, "size": 36, "color": "#111", "opacity": 1, "strokeWidth": 0}},
{"data": {"name": "mk"}, "transform": [{"filter": "datum.p === 'A' && datum.k === 'MD'"}], "mark": {"type": "point", "shape": "diamond", "filled": true, "size": 64, "color": "#f03cf0", "opacity": 1, "strokeWidth": 0}},
{"data": {"name": "mk"}, "transform": [{"filter": "datum.p === 'A' && datum.k === 'MC'"}], "mark": {"type": "point", "shape": "circle", "filled": true, "size": 45, "color": "#f03cf0", "opacity": 1, "strokeWidth": 0}},
{"data": {"name": "mk"}, "transform": [{"filter": "datum.p === 'A' && datum.k === 'LD'"}], "mark": {"type": "point", "shape": "diamond", "filled": true, "size": 64, "color": "#111", "opacity": 1, "strokeWidth": 0}},
{"data": {"name": "mk"}, "transform": [{"filter": "datum.p === 'A' && datum.k === 'LC'"}], "mark": {"type": "point", "shape": "circle", "filled": true, "size": 36, "color": "#111", "opacity": 1, "strokeWidth": 0}},
{"data": {"name": "txt"}, "transform": [{"filter": "datum.p === 'A' && datum.k === 'L'"}], "mark": {"type": "text", "align": "left", "baseline": "middle", "fontSize": 20.5, "font": "Liberation Serif", "color": "#111"},
"encoding": {"text": {"field": "t"}}},
{"data": {"name": "txt"}, "transform": [{"filter": "datum.p === 'A' && datum.k === 'S'"}], "mark": {"type": "text", "align": "left", "baseline": "alphabetic", "fontSize": 14, "font": "Liberation Serif", "color": "#111"},
"encoding": {"text": {"field": "t"}}},
{"data": {"name": "txt"}, "transform": [{"filter": "datum.p === 'A' && datum.k === 'P'"}], "mark": {"type": "text", "align": "left", "baseline": "alphabetic", "fontSize": 25, "font": "Liberation Serif", "color": "#111"},
"encoding": {"text": {"field": "t"}}}
]
},
{
"width": 452.5, "height": 342.5,
"encoding": {
"x": {"field": "x", "type": "quantitative", "scale": {"domain": [4.9, 93.6], "nice": false, "zero": false},
"axis": {"title": "2θ/ degree", "values": [10,20,30,40,50,60,70,80,90], "ticks": false, "domain": false, "grid": false,
"labelFont": "Liberation Serif", "labelFontSize": 25.5, "labelColor": "#111", "labelPadding": 9, "labelFlush": false, "labelOverlap": false,
"titleFont": "Liberation Serif", "titleFontSize": 26, "titleFontWeight": "normal", "titleColor": "#111", "titleBaseline": "alphabetic", "titleY": 56}},
"y": {"field": "y", "type": "quantitative", "scale": {"domain": [0, 342.5], "nice": false, "zero": false},
"axis": {"title": "Intensity/(a.u.)", "labels": false, "ticks": false, "domain": false, "grid": false,
"titleFont": "Liberation Serif", "titleFontSize": 28.5, "titleFontWeight": "normal", "titleColor": "#111", "titlePadding": 4.7}}
},
"layer": [
{"data": {"name": "bg"}, "transform": [{"filter": "datum.p === 'B'"}], "mark": {"type": "line", "strokeWidth": 1},
"encoding": {"color": {"field": "s", "type": "nominal", "scale": {"domain": ["AECT","Cabot","SCG","Ref"], "range": ["#22922a","#1a1a96","#ff2020","#111111"]}, "legend": null}}},
{"data": {"name": "pk"}, "transform": [{"filter": "datum.p === 'B'"}], "mark": {"type": "rule", "strokeWidth": 1.25},
"encoding": {"y2": {"field": "t"}, "color": {"field": "s", "type": "nominal", "legend": null}}},
{"data": {"name": "lab"}, "transform": [{"filter": "datum.p === 'B'"}], "mark": {"type": "rule", "strokeWidth": 1.2},
"encoding": {"x2": {"field": "x2"}, "color": {"field": "s", "type": "nominal", "legend": null}}},
{"data": {"name": "lab"}, "transform": [{"filter": "datum.p === 'B'"}], "mark": {"type": "text", "align": "left", "baseline": "middle", "fontSize": 22, "font": "Liberation Serif"},
"encoding": {"x": {"field": "tx", "type": "quantitative"}, "text": {"field": "s"}, "color": {"field": "s", "type": "nominal", "legend": null}}},
{"data": {"name": "mk"}, "transform": [{"filter": "datum.p === 'B' && datum.k === 'D'"}], "mark": {"type": "point", "shape": "diamond", "filled": true, "size": 90, "color": "#111", "opacity": 1, "strokeWidth": 0}},
{"data": {"name": "mk"}, "transform": [{"filter": "datum.p === 'B' && datum.k === 'C'"}], "mark": {"type": "point", "shape": "circle", "filled": true, "size": 40, "color": "#111", "opacity": 1, "strokeWidth": 0}},
{"data": {"name": "mk"}, "transform": [{"filter": "datum.p === 'B' && datum.k === 'MD'"}], "mark": {"type": "point", "shape": "diamond", "filled": true, "size": 64, "color": "#f03cf0", "opacity": 1, "strokeWidth": 0}},
{"data": {"name": "mk"}, "transform": [{"filter": "datum.p === 'B' && datum.k === 'MC'"}], "mark": {"type": "point", "shape": "circle", "filled": true, "size": 45, "color": "#f03cf0", "opacity": 1, "strokeWidth": 0}},
{"data": {"name": "mk"}, "transform": [{"filter": "datum.p === 'B' && datum.k === 'LD'"}], "mark": {"type": "point", "shape": "diamond", "filled": true, "size": 40, "color": "#111", "opacity": 1, "strokeWidth": 0}},
{"data": {"name": "mk"}, "transform": [{"filter": "datum.p === 'B' && datum.k === 'LC'"}], "mark": {"type": "point", "shape": "circle", "filled": true, "size": 25, "color": "#111", "opacity": 1, "strokeWidth": 0}},
{"data": {"name": "txt"}, "transform": [{"filter": "datum.p === 'B' && datum.k === 'L'"}], "mark": {"type": "text", "align": "left", "baseline": "middle", "fontSize": 20, "font": "Liberation Serif", "color": "#111"},
"encoding": {"text": {"field": "t"}}},
{"data": {"name": "txt"}, "transform": [{"filter": "datum.p === 'B' && datum.k === 'S'"}], "mark": {"type": "text", "align": "left", "baseline": "alphabetic", "fontSize": 14, "font": "Liberation Serif", "color": "#111"},
"encoding": {"text": {"field": "t"}}},
{"data": {"name": "txt"}, "transform": [{"filter": "datum.p === 'B' && datum.k === 'P'"}], "mark": {"type": "text", "align": "left", "baseline": "alphabetic", "fontSize": 25, "font": "Liberation Serif", "color": "#111"},
"encoding": {"text": {"field": "t"}}}
]
}
]
}
